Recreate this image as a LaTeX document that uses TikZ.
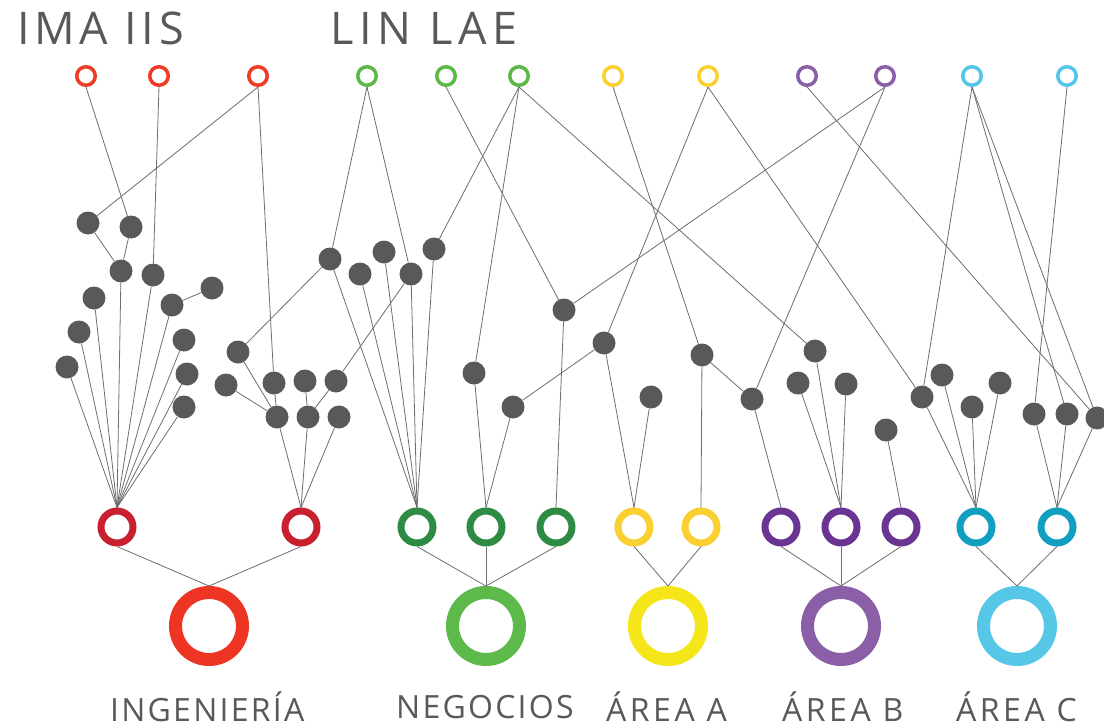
\documentclass[tikz,border=0pt]{standalone}
\usepackage{fontspec}
\setmainfont{Open Sans}
\newfontfamily\spacedfont[LetterSpace=10.5]{Open Sans}
\newfontfamily\spacedfontw[LetterSpace=13]{Open Sans}
\newfontfamily\spacedfontb[LetterSpace=7]{Open Sans}
\newfontfamily\spacedfontc[LetterSpace=11]{Open Sans}
\definecolor{txtgray}{HTML}{58595B}
\definecolor{dotgray}{HTML}{58595B}
\definecolor{linegray}{HTML}{6D6E71}
\definecolor{redT}{HTML}{EF3B24}
\definecolor{redM}{HTML}{C8202F}
\definecolor{redB}{HTML}{EE3524}
\definecolor{greenT}{HTML}{5BB947}
\definecolor{greenM}{HTML}{2E8B43}
\definecolor{greenB}{HTML}{5DB94A}
\definecolor{yelT}{HTML}{FCD12E}
\definecolor{yelM}{HTML}{F9CF31}
\definecolor{yelB}{HTML}{F5E61A}
\definecolor{purT}{HTML}{8B5FA8}
\definecolor{purM}{HTML}{6A3592}
\definecolor{purB}{HTML}{8A5FA8}
\definecolor{bluT}{HTML}{56C5E8}
\definecolor{bluM}{HTML}{119FC1}
\definecolor{bluB}{HTML}{56C7E7}
\begin{document}
\begin{tikzpicture}[x=1pt,y=-1pt,
  conn/.style={draw=linegray, line width=0.8pt},
  dot/.style={circle, fill=dotgray, inner sep=0pt, minimum size=23pt},
  topring/.style={circle, draw=#1, line width=3.5pt, inner sep=0pt, minimum size=18.5pt},
  midring/.style={circle, draw=#1, line width=7pt, inner sep=0pt, minimum size=32pt},
  bigring/.style={circle, draw=#1, line width=13pt, inner sep=0pt, minimum size=67pt},
  toplab/.style={text=txtgray, inner sep=0pt, anchor=base west, font=\spacedfont\fontsize{45}{45}\selectfont},
  toplabw/.style={text=txtgray, inner sep=0pt, anchor=base west, font=\spacedfontw\fontsize{45}{45}\selectfont},
  botlab/.style={text=txtgray, inner sep=0pt, anchor=base west, font=\spacedfontb\fontsize{32}{32}\selectfont},
  botlabw/.style={text=txtgray, inner sep=0pt, anchor=base west, font=\spacedfontc\fontsize{32}{32}\selectfont}]
\fill[white] (0,0) rectangle (1104,728);
\useasboundingbox (0,0) rectangle (1104,728);

% labels
\node[toplab] (lab1) at (17,44) {IMA IIS};
\node[toplabw] (lab2) at (330,44) {LIN LAE};
\node[botlab] (lab3) at (110,721) {INGENIERÍA};
\node[botlab] (lab4) at (396,718) {NEGOCIOS};
\node[botlabw] (lab5) at (606,721) {ÁREA A};
\node[botlabw] (lab6) at (782,721) {ÁREA B};
\node[botlabw] (lab7) at (956,721) {ÁREA C};

% top rings
\node[topring=redT] (R1) at (86,76) {};
\node[topring=redT] (R2) at (159,76) {};
\node[topring=redT] (R3) at (258,76) {};
\node[topring=greenT] (G1) at (367,76) {};
\node[topring=greenT] (G2) at (446,76) {};
\node[topring=greenT] (G3) at (519,76) {};
\node[topring=yelT] (Y1) at (613,76) {};
\node[topring=yelT] (Y2) at (708,76) {};
\node[topring=purT] (P1) at (807,76) {};
\node[topring=purT] (P2) at (885,76) {};
\node[topring=bluT] (B1) at (972,76) {};
\node[topring=bluT] (B2) at (1067,76) {};

% middle rings
\node[midring=redM] (MR1) at (117,527) {};
\node[midring=redM] (MR2) at (301,527) {};
\node[midring=greenM] (MG1) at (417,527) {};
\node[midring=greenM] (MG2) at (486,527) {};
\node[midring=greenM] (MG3) at (556,527) {};
\node[midring=yelM] (MY1) at (634,527) {};
\node[midring=yelM] (MY2) at (701,527) {};
\node[midring=purM] (MP1) at (781,527) {};
\node[midring=purM] (MP2) at (841,527) {};
\node[midring=purM] (MP3) at (901,527) {};
\node[midring=bluM] (MB1) at (976,527) {};
\node[midring=bluM] (MB2) at (1057,527) {};

% big rings
\node[bigring=redB] (BR) at (209,626) {};
\node[bigring=greenB] (BG) at (486,626) {};
\node[bigring=yelB] (BY) at (668,626) {};
\node[bigring=purB] (BP) at (841,626) {};
\node[bigring=bluB] (BB) at (1017,626) {};

% dots
\node[dot] (d1) at (88,223) {};
\node[dot] (d2) at (131,227) {};
\node[dot] (d3) at (121,271) {};
\node[dot] (d4) at (153,275) {};
\node[dot] (d5) at (94,298) {};
\node[dot] (d6) at (212,288) {};
\node[dot] (d7) at (172,305) {};
\node[dot] (d8) at (79,332) {};
\node[dot] (d9) at (184,340) {};
\node[dot] (d10) at (67,367) {};
\node[dot] (d11) at (187,374) {};
\node[dot] (d12) at (184,407) {};
\node[dot] (e1) at (238,352) {};
\node[dot] (e2) at (226,385) {};
\node[dot] (e3) at (274,383) {};
\node[dot] (e4) at (305,381) {};
\node[dot] (e5) at (336,381) {};
\node[dot] (e6) at (277,417) {};
\node[dot] (e7) at (308,417) {};
\node[dot] (e8) at (339,417) {};
\node[dot] (f1) at (330,259) {};
\node[dot] (f2) at (360,274) {};
\node[dot] (f3) at (384,252) {};
\node[dot] (f4) at (411,274) {};
\node[dot] (f5) at (434,249) {};
\node[dot] (g1) at (474,373) {};
\node[dot] (g2) at (513,407) {};
\node[dot] (g3) at (564,310) {};
\node[dot] (h1) at (604,343) {};
\node[dot] (h2) at (651,397) {};
\node[dot] (h3) at (702,355) {};
\node[dot] (p1) at (752,399) {};
\node[dot] (p2) at (815,351) {};
\node[dot] (p3) at (798,383) {};
\node[dot] (p4) at (846,384) {};
\node[dot] (p5) at (886,430) {};
\node[dot] (b1) at (922,397) {};
\node[dot] (b2) at (942,375) {};
\node[dot] (b3) at (972,407) {};
\node[dot] (b4) at (1000,383) {};
\node[dot] (b5) at (1034,414) {};
\node[dot] (b6) at (1067,414) {};
\node[dot] (b7) at (1097,418) {};

% top -> dots
\foreach \a/\b in {R1/d2, R2/d4, R3/d1, R3/e3, G1/f1, G1/f4, G2/g3, G3/f5, G3/g1, G3/p2,
  Y1/h3, Y2/h1, Y2/b1, P1/b7, P2/g3, P2/p1, B1/b1, B1/b6, B1/b7, B2/b5}
  \draw[conn] (\a.south) -- (\b);

% dot -> dot
\foreach \a/\b in {d1/d3, d2/d3, d7/d6, e1/f1, e1/e6, e2/e6, e3/e6, e4/e7, e5/e7, e5/f4, g2/h1, h3/p1}
  \draw[conn] (\a) -- (\b);

% dots -> middle rings
\foreach \a/\b in {d3/MR1, d4/MR1, d5/MR1, d7/MR1, d8/MR1, d9/MR1, d10/MR1, d11/MR1, d12/MR1,
  e6/MR2, e7/MR2, e8/MR2, f1/MG1, f2/MG1, f3/MG1, f4/MG1, f5/MG1, g1/MG2, g2/MG2, g3/MG3,
  h1/MY1, h2/MY1, h3/MY2, p1/MP1, p2/MP2, p3/MP2, p4/MP2, p5/MP3,
  b1/MB1, b2/MB1, b3/MB1, b4/MB1, b5/MB2, b6/MB2, b7/MB2}
  \draw[conn] (\a) -- (\b.north);

% middle -> big
\foreach \a/\b in {MR1/BR, MR2/BR, MG1/BG, MG2/BG, MG3/BG, MY1/BY, MY2/BY, MP1/BP, MP2/BP, MP3/BP, MB1/BB, MB2/BB}
  \draw[conn] (\a.south) -- (\b.north);
\end{tikzpicture}
\end{document}
